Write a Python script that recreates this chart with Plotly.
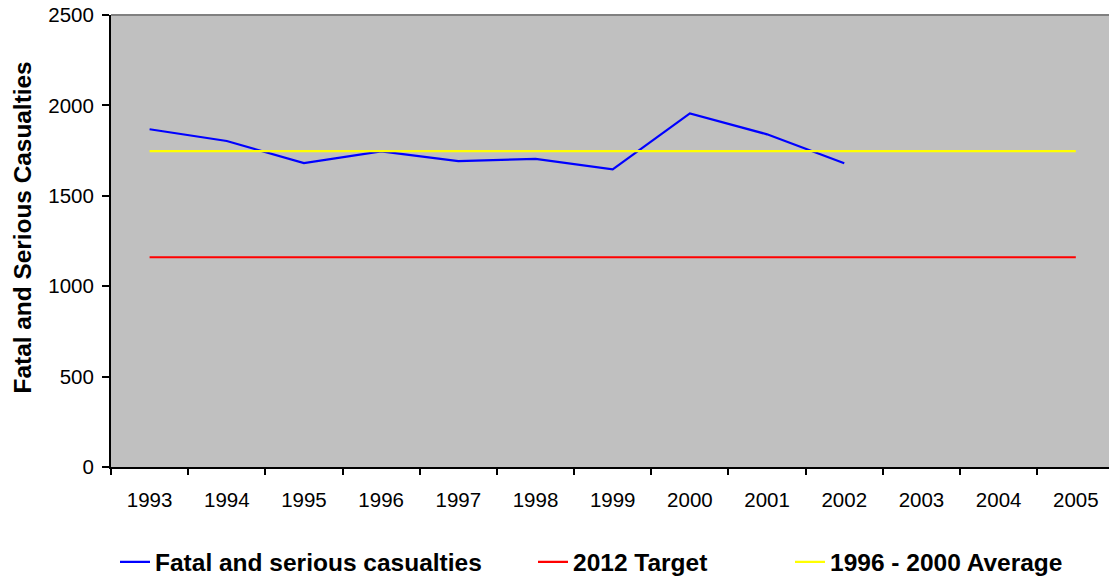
import plotly.graph_objects as go

years = ["1993", "1994", "1995", "1996", "1997", "1998", "1999",
         "2000", "2001", "2002", "2003", "2004", "2005"]
casualties = [1868, 1803, 1681, 1746, 1692, 1704, 1646, 1956, 1840, 1680,
              None, None, None]
target_2012 = [1160, 1160, 1160, 1160, 1160, 1160, 1160,
               1160, 1160, 1160, 1160, 1160, 1160]
avg_1996_2000 = [1747, 1747, 1747, 1747, 1747, 1747, 1747,
                 1747, 1747, 1747, 1747, 1747, 1747]
y_ticks = [0, 500, 1000, 1500, 2000, 2500]

FONT = "Liberation Sans, Arial, sans-serif"
LEG_FONT = dict(family=FONT, size=24.5, color="black", weight="bold")

fig = go.Figure()
fig.add_trace(go.Scatter(x=years, y=casualties, mode="lines",
                         name="Fatal and serious casualties",
                         line=dict(color="#0000FF", width=2.2),
                         legend="legend"))
fig.add_trace(go.Scatter(x=years, y=target_2012, mode="lines",
                         name="2012 Target",
                         line=dict(color="#FF0000", width=2.2),
                         legend="legend2"))
fig.add_trace(go.Scatter(x=years, y=avg_1996_2000, mode="lines",
                         name="1996 - 2000 Average",
                         line=dict(color="#FFFF00", width=2.2),
                         legend="legend3"))

W, H = 1109, 579
leg_common = dict(orientation="h", xref="container", yref="container",
                  y=(H - 562) / H, yanchor="middle",
                  xanchor="left", font=LEG_FONT, itemwidth=30,
                  bgcolor="rgba(0,0,0,0)", borderwidth=0)

fig.update_layout(
    width=W, height=H,
    margin=dict(l=111, r=0, t=15, b=112, autoexpand=False),
    paper_bgcolor="white",
    plot_bgcolor="#C0C0C0",
    font=dict(family=FONT, size=20.5, color="black"),
    showlegend=True,
    legend=dict(x=115 / W, **leg_common),
    legend2=dict(x=533 / W, **leg_common),
    legend3=dict(x=790 / W, **leg_common),
    xaxis=dict(type="category", range=[-0.5, 12.43], automargin=False,
               tickson="boundaries", ticks="outside", ticklen=6,
               tickwidth=2, tickcolor="black",
               showline=True, linecolor="black", linewidth=2,
               showgrid=False, zeroline=False,
               ticklabelstandoff=13,
               tickfont=dict(family=FONT, size=20.5, color="black")),
    yaxis=dict(range=[0, 2500], tickvals=y_ticks, ticks="outside",
               automargin=False,
               ticklen=7, tickwidth=2, tickcolor="black",
               showline=True, linecolor="black", linewidth=2,
               showgrid=False, zeroline=False,
               ticklabelstandoff=4, ticklabeloverflow="allow",
               tickfont=dict(family=FONT, size=20.5, color="black")),
)

fig.add_shape(type="line", xref="paper", yref="paper",
              x0=0, x1=1, y0=1, y1=1,
              line=dict(color="#808080", width=2))

fig.add_annotation(text="<b>Fatal and Serious Casualties</b>",
                   xref="paper", yref="paper",
                   x=-0.0892, y=0.530,
                   xanchor="center", yanchor="middle",
                   textangle=-90, showarrow=False,
                   font=dict(family=FONT, size=24.4, color="black"))

fig.write_html("out.html",
               config={"displayModeBar": False},
               post_script="document.body.style.margin='0';")
